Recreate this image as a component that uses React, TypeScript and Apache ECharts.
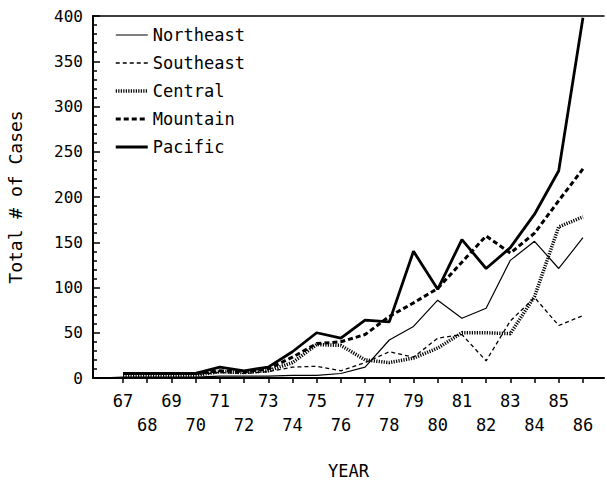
import React, { useEffect, useRef } from "react";
import * as echarts from "echarts";

const years = [67, 68, 69, 70, 71, 72, 73, 74, 75, 76, 77, 78, 79, 80, 81, 82, 83, 84, 85, 86];
const yTicks = [0, 50, 100, 150, 200, 250, 300, 350, 400];
const seriesNames = ["Northeast", "Southeast", "Central", "Mountain", "Pacific"];

const northeastStart = [66, 0];
const northeast = [1, 1, 1, 1, 2, 2, 2, 3, 3, 5, 12, 42, 57, 86, 66, 77, 130, 151, 121, 155];
const southeast = [4, 4, 4, 4, 6, 5, 7, 12, 13, 8, 17, 29, 23, 44, 48, 19, 63, 89, 58, 69];
const central = [3, 3, 3, 3, 7, 6, 8, 17, 37, 36, 20, 17, 22, 33, 50, 50, 49, 90, 167, 178];
const mountain = [5, 5, 5, 5, 8, 7, 10, 23, 38, 40, 48, 68, 83, 99, 128, 157, 138, 160, 196, 231];
const pacific = [5, 5, 5, 5, 12, 8, 12, 29, 50, 44, 64, 62, 140, 98, 153, 121, 144, 181, 229, 398];

const FONT = "'DejaVu Sans Mono', monospace";

function pairs(vals: number[]) {
  return years.map((y, i) => [y, vals[i]]);
}

const styles: any[] = [
  { width: 1.2, type: "solid" },
  { width: 1.3, type: [4, 3] },
  { width: 3.5, type: [1.2, 1.3], cap: "butt" },
  { width: 3, type: [5, 3], cap: "butt" },
  { width: 2.8, type: "solid" },
];

export default function App() {
  const ref = useRef<HTMLDivElement>(null);
  useEffect(() => {
    if (!ref.current) return;
    const chart = echarts.init(ref.current, null, { renderer: "svg" });
    const datasets = [[northeastStart, ...pairs(northeast)], pairs(southeast), pairs(central), pairs(mountain), pairs(pacific)];
    chart.setOption({
      animation: false,
      backgroundColor: "#fff",
      grid: { left: 93, right: 3, top: 16, bottom: 103, containLabel: false, outerBoundsMode: "none" },
      legend: {
        orient: "vertical",
        left: 114,
        top: 25,
        padding: 0,
        itemWidth: 32,
        itemHeight: 20,
        itemGap: 8,
        itemStyle: { color: "rgba(0,0,0,0)", borderWidth: 0, opacity: 0 },
        textStyle: { color: "#000", fontFamily: FONT, fontSize: 17, lineHeight: 20 },
        data: seriesNames.map((n, i) => ({ name: n, lineStyle: { color: "#000", ...styles[i] } })),
      },
      xAxis: [
        {
          type: "value",
          min: 65.76,
          max: 86.87,
          name: "YEAR",
          nameLocation: "middle",
          nameGap: 84,
          nameTextStyle: { color: "#000", fontFamily: FONT, fontSize: 17 },
          axisLine: { show: true, lineStyle: { color: "#000", width: 2 } },
          axisTick: { show: true, inside: false, length: 5, customValues: years, lineStyle: { color: "#000", width: 1.5 } },
          axisLabel: {
            show: true,
            customValues: years,
            margin: 11,
            color: "#000",
            fontFamily: FONT,
            fontSize: 17,
            lineHeight: 24,
            formatter: (v: number) => (Math.round(v) % 2 === 0 ? "\n" + Math.round(v) : String(Math.round(v))),
          },
          splitLine: { show: false },
        },
        {
          type: "value",
          position: "top",
          min: 65.76,
          max: 86.87,
          axisLine: { show: true, lineStyle: { color: "#000", width: 1.5 } },
          axisTick: { show: false },
          axisLabel: { show: false },
          splitLine: { show: false },
        },
      ],
      yAxis: {
        type: "value",
        min: 0,
        max: 400,
        interval: 50,
        name: "Total # of Cases",
        nameLocation: "middle",
        nameGap: 69,
        nameRotate: 90,
        nameTextStyle: { color: "#000", fontFamily: FONT, fontSize: 18 },
        axisLine: { show: true, lineStyle: { color: "#000", width: 2 } },
        axisTick: { show: true, inside: true, length: 7, lineStyle: { color: "#000", width: 1.5 } },
        minorTick: { show: true, splitNumber: 5, length: 4, lineStyle: { color: "#000", width: 1.5 } },
        axisLabel: {
          color: "#000",
          fontFamily: FONT,
          fontSize: 16,
          margin: 10,
          formatter: (v: number) => (yTicks.includes(v) ? String(v) : ""),
        },
        splitLine: { show: false },
      },
      series: seriesNames.map((n, i) => ({
        name: n,
        type: "line",
        data: datasets[i],
        showSymbol: false,
        symbol: "none",
        lineStyle: { color: "#000", ...styles[i] },
        itemStyle: { color: "#000" },
        z: 3,
      })),
    });
    return () => chart.dispose();
  }, []);
  return <div ref={ref} style={{ width: 607, height: 481, position: "absolute", left: 0, top: 0 }} />;
}
